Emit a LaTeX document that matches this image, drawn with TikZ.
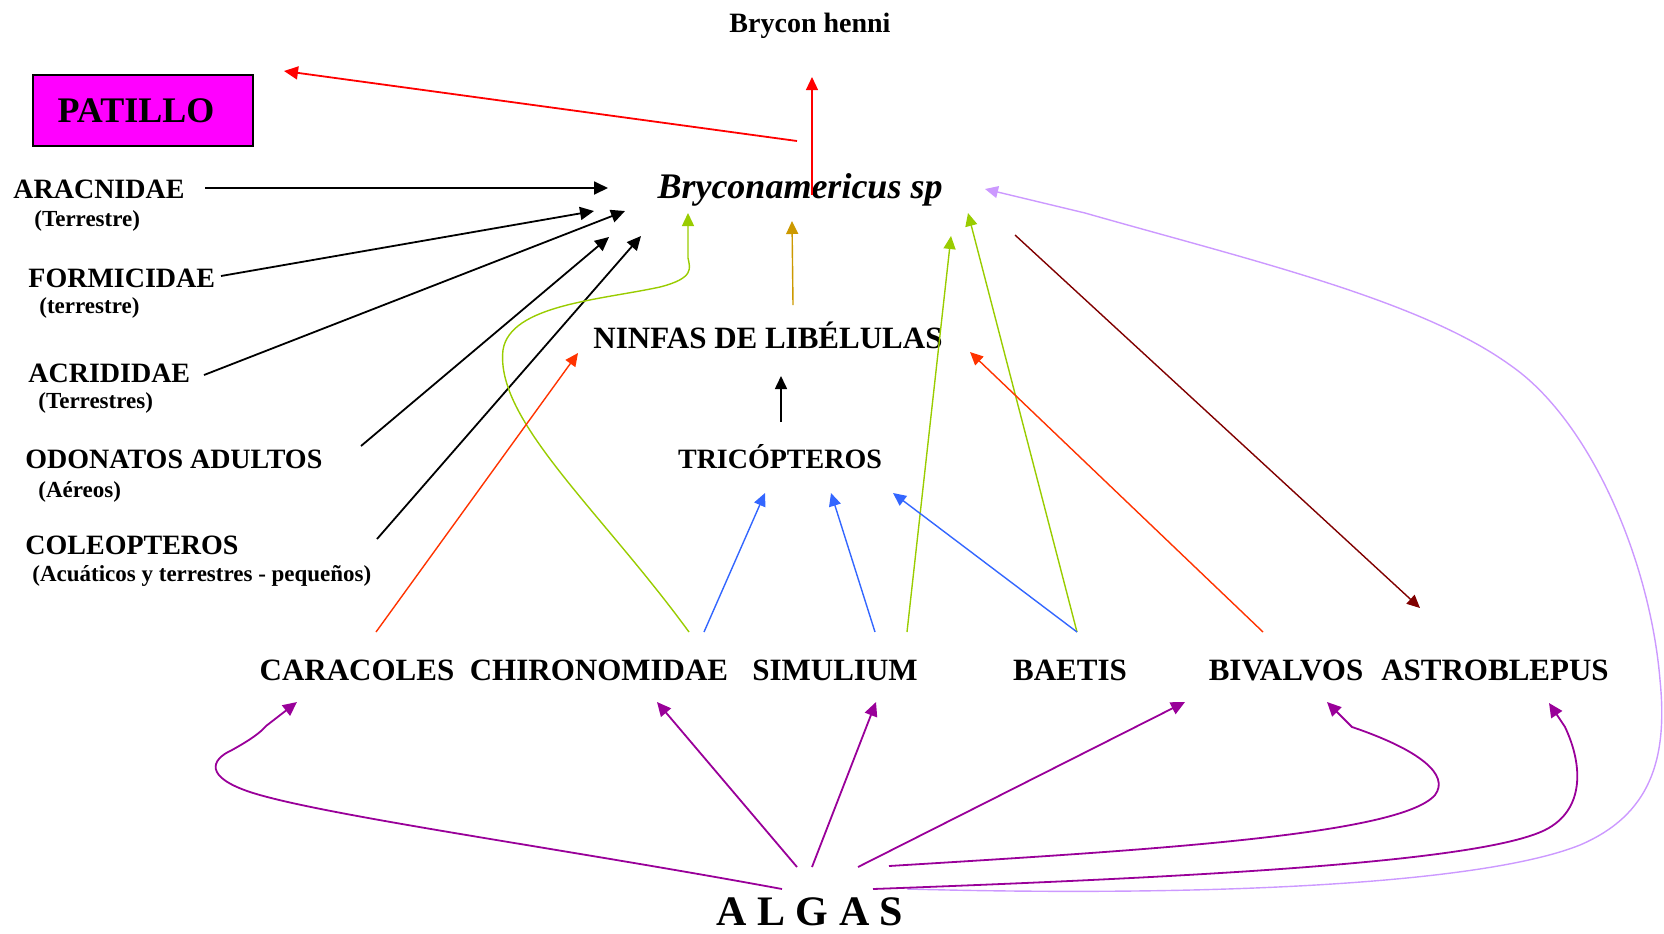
\documentclass[tikz,border=0pt]{standalone}
\usepackage{fontspec}
\setmainfont{Liberation Serif}
\usetikzlibrary{arrows.meta}
\definecolor{cred}{RGB}{255,0,0}
\definecolor{corange}{RGB}{255,51,0}
\definecolor{cgreen}{RGB}{153,204,0}
\definecolor{cgold}{RGB}{204,153,0}
\definecolor{cblue}{RGB}{51,102,255}
\definecolor{cdark}{RGB}{128,0,0}
\definecolor{clav}{RGB}{204,153,255}
\definecolor{cpurple}{RGB}{153,0,153}
\definecolor{cmag}{RGB}{255,0,255}
\begin{document}
\begin{tikzpicture}[x=0.5pt,y=-0.5pt,
  lab/.style={font=\bfseries\fontsize{14}{16}\selectfont, inner sep=0pt, anchor=base west},
  sub/.style={font=\bfseries\fontsize{11.5}{13}\selectfont, inner sep=0pt, anchor=base west},
  bot/.style={font=\bfseries\fontsize{15.5}{18}\selectfont, inner sep=0pt, anchor=base},
  arr/.style={-{Triangle[length=7pt,width=6.5pt]}, line width=0.9pt},
  thin/.style={-{Triangle[length=6.5pt,width=6pt]}, line width=0.7pt},
  purp/.style={-{Triangle[length=7pt,width=6.5pt]}, line width=0.9pt, cpurple},
]
\useasboundingbox (0,0) rectangle (1664,933);

% ---- text nodes
\node[font=\bfseries\fontsize{14}{16}\selectfont, inner sep=0pt, anchor=base] (henni) at (810,32) {Brycon henni};
\node[draw=black, line width=1pt, fill=cmag, minimum width=110pt, minimum height=35.5pt, inner sep=0pt,
      font=\bfseries\fontsize{18}{20}\selectfont] (patillo) at (143,110.5) {PATILLO\hspace*{7pt}};
\node[font=\bfseries\itshape\fontsize{18}{20}\selectfont, inner sep=0pt, anchor=base] (bryco) at (800,198) {Bryconamericus sp};

\node[lab] (aracnidae) at (13,198) {ARACNIDAE};
\node[sub] (aracsub) at (34,226) {(Terrestre)};
\node[lab] (formicidae) at (28,287) {FORMICIDAE};
\node[sub] (formsub) at (39,313) {(terrestre)};
\node[lab] (acrididae) at (28,382) {ACRIDIDAE};
\node[sub] (acrisub) at (38,408) {(Terrestres)};
\node[lab] (odonatos) at (25,468) {ODONATOS ADULTOS};
\node[sub] (odosub) at (38,497) {(Aéreos)};
\node[lab] (coleopteros) at (25,554) {COLEOPTEROS};
\node[sub] (coleosub) at (32,581) {(Acuáticos y terrestres - pequeños)};

\node[font=\bfseries\fontsize{15.5}{18}\selectfont, inner sep=0pt, anchor=base] (ninfas) at (768,348) {NINFAS DE LIBÉLULAS};
\node[font=\bfseries\fontsize{14}{16}\selectfont, inner sep=0pt, anchor=base] (trico) at (780,468) {TRICÓPTEROS};

\node[bot] (caracoles) at (357,680) {CARACOLES};
\node[bot] (chirono) at (599,680) {CHIRONOMIDAE};
\node[bot] (simulium) at (835,680) {SIMULIUM};
\node[bot] (baetis) at (1070,680) {BAETIS};
\node[bot] (bivalvos) at (1286,680) {BIVALVOS};
\node[bot] (astro) at (1495,680) {ASTROBLEPUS};
\node[font=\bfseries\fontsize{21}{23}\selectfont, inner sep=0pt, anchor=base] (algas) at (810,925) {A L G A S};

% ---- connector end points
\coordinate (r1s) at (797,141);  \coordinate (r1e) at (284,71);
\coordinate (r2s) at (812,195);  \coordinate (r2e) at (812,77);
\coordinate (k1s) at (205,188);  \coordinate (k1e) at (608,188);
\coordinate (k2s) at (221,276);  \coordinate (k2e) at (594,211);
\coordinate (k3s) at (204,375);  \coordinate (k3e) at (625,211);
\coordinate (k4s) at (361,446);  \coordinate (k4e) at (609,237);
\coordinate (k5s) at (377,539);  \coordinate (k5e) at (641,236);
\coordinate (g1s) at (689,632);  \coordinate (g1e) at (688,213);
\coordinate (o1s) at (793,305);  \coordinate (o1e) at (792,221);
\coordinate (k6s) at (781,422);  \coordinate (k6e) at (781,376);
\coordinate (ro1s) at (376,632); \coordinate (ro1e) at (578,353);
\coordinate (g2s) at (907,632);  \coordinate (g2e) at (951,236);
\coordinate (g3s) at (1077,632); \coordinate (g3e) at (968,213);
\coordinate (b1s) at (704,632);  \coordinate (b1e) at (765,493);
\coordinate (b2s) at (875,632);  \coordinate (b2e) at (831,493);
\coordinate (b3s) at (1077,632); \coordinate (b3e) at (893,493);
\coordinate (ro2s) at (1263,632); \coordinate (ro2e) at (970,352);
\coordinate (dks) at (1015,235); \coordinate (dke) at (1420,608);
\coordinate (lvs) at (907,889);  \coordinate (lve) at (985,189);
\coordinate (pas) at (782,889);  \coordinate (pae) at (297,702);
\coordinate (pbs) at (797,867);  \coordinate (pbe) at (657,702);
\coordinate (pcs) at (812,867);  \coordinate (pce) at (876,702);
\coordinate (pds) at (858,867);  \coordinate (pde) at (1185,702);
\coordinate (pes) at (889,866);  \coordinate (pee) at (1327,702);
\coordinate (pfs) at (873,889);  \coordinate (pfe) at (1549,703);

% ---- connectors
\draw[arr, cred] (r1s) -- (r1e);
\draw[thin, cred, line width=0.6pt] (r2s) -- (r2e);

\draw[arr] (k1s) -- (k1e);
\draw[arr] (k2s) -- (k2e);
\draw[arr] (k3s) -- (k3e);
\draw[arr] (k4s) -- (k4e);
\draw[arr] (k5s) -- (k5e);

\draw[thin, cgreen] (g1s) .. controls (600,510) and (495,420) .. (503,350)
   .. controls (510,305) and (600,300) .. (660,287)
   .. controls (695,278) and (690,268) .. (688,258) -- (g1e);
\draw[thin, cgold] (o1s) -- (o1e);
\draw[thin, black, line width=0.8pt] (k6s) -- (k6e);
\draw[thin, corange] (ro1s) -- (ro1e);
\draw[thin, cgreen] (g2s) -- (g2e);
\draw[thin, cgreen] (g3s) -- (g3e);
\draw[thin, cblue] (b1s) -- (b1e);
\draw[thin, cblue] (b2s) -- (b2e);
\draw[thin, cblue] (b3s) -- (b3e);
\draw[thin, corange] (ro2s) -- (ro2e);
\draw[thin, cdark] (dks) -- (dke);

\draw[thin, clav] (lvs) .. controls (1200,897) and (1480,885) .. (1580,845)
   .. controls (1650,815) and (1668,760) .. (1660,680)
   .. controls (1650,560) and (1590,420) .. (1510,365)
   .. controls (1420,300) and (1250,260) .. (1085,213) -- (lve);

\draw[purp] (pas) .. controls (560,848) and (320,815) .. (250,792)
   .. controls (205,777) and (210,760) .. (232,750)
   .. controls (250,740) and (260,733) .. (266,726) -- (pae);
\draw[purp] (pbs) -- (pbe);
\draw[purp] (pcs) -- (pce);
\draw[purp] (pds) -- (pde);
\draw[purp] (pes) .. controls (1150,850) and (1400,835) .. (1435,795)
   .. controls (1450,775) and (1420,750) .. (1352,727) -- (pee);
\draw[purp] (pfs) .. controls (1200,877) and (1480,862) .. (1545,830)
   .. controls (1585,810) and (1583,765) .. (1565,727) -- (pfe);
\end{tikzpicture}
\end{document}
